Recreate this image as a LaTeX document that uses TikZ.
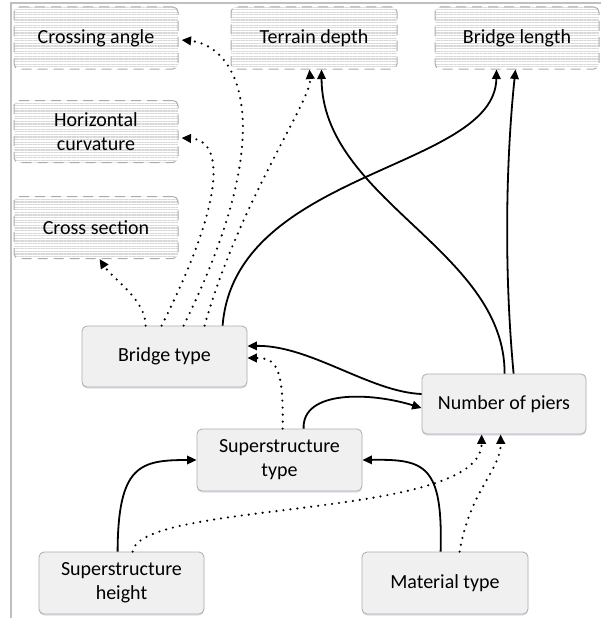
\documentclass[tikz,border=0pt]{standalone}
\usepackage{fontspec}
\setmainfont{Carlito}
\usetikzlibrary{arrows.meta,patterns.meta,shadows}
\begin{document}
\begin{tikzpicture}[x=1pt,y=-1pt,
  box/.style={draw=gray!65, line width=0.8pt, rounded corners=5pt, fill=gray!12,
    minimum width=164pt, minimum height=61pt, inner sep=0pt, align=center,
    font=\fontsize{20}{24}\selectfont,
    drop shadow={shadow xshift=0pt, shadow yshift=-1.5pt, fill=blue!30!gray!40, opacity=0.5}},
  dbox/.style={draw=gray!65, dash pattern=on 10pt off 6pt, line width=1pt, rounded corners=5pt,
    pattern={Lines[angle=0,distance=2.6pt,line width=1.1pt]}, pattern color=gray!30,
    minimum width=164pt, minimum height=62pt, inner sep=0pt, align=center,
    font=\fontsize{20}{24}\selectfont},
  sarr/.style={-{Triangle[length=9.5pt,width=8.5pt]}, line width=1.8pt},
  darr/.style={-{Triangle[length=9.5pt,width=8.5pt]}, line width=2.4pt, line cap=round, dash pattern=on 0pt off 7pt},
  frame/.style={draw=gray!50, line width=1.5pt}
]
\useasboundingbox (0,0) rectangle (601,618);
\draw[frame] (11,618) -- (11,3) -- (601,3);

\node[dbox] (ca) at (96,38) {Crossing angle};
\node[dbox] (hc) at (96,131.5) {Horizontal\\curvature};
\node[dbox] (cs) at (96,227.5) {Cross section};
\node[dbox, minimum width=166pt] (td) at (314,38) {Terrain depth};
\node[dbox] (bl) at (517,38) {Bridge length};

\node[box, minimum width=165pt] (bt) at (164.5,356.5) {Bridge type};
\node[box, minimum height=60pt] (np) at (504,404) {Number of piers};
\node[box, minimum width=165pt, minimum height=62pt] (sst) at (279.5,460) {Superstructure\\type};
\node[box, minimum width=165pt, minimum height=62pt] (ssh) at (121.5,583) {Superstructure\\height};
\node[box, minimum width=166pt, minimum height=62pt] (mt) at (445,583) {Material type};

% dotted from bridge type
\draw[darr] ([xshift=64pt]bt.north west) .. controls (146,300) and (112,278) .. ([xshift=86pt]cs.south west);
\draw[darr] ([xshift=80pt]bt.north west) .. controls (225,200) and (225,140) .. ([xshift=3pt,yshift=-6.5pt]hc.east);
\draw[darr] ([xshift=102pt]bt.north west) .. controls (285,120) and (235,45) .. ([xshift=3pt,yshift=-2pt]ca.east);
\draw[darr] ([xshift=123pt]bt.north west) .. controls (240,200) and (312,100) .. ([xshift=79pt]td.south west);
% solid from bridge type
\draw[sarr] ([xshift=141pt]bt.north west) .. controls (235,170) and (495,170) .. ([xshift=62pt]bl.south west);
% from number of piers
\draw[sarr] ([xshift=83pt]np.north west) .. controls (505,250) and (322,200) .. ([xshift=91pt]td.south west);
\draw[sarr] ([xshift=92pt]np.north west) .. controls (503,260) and (507,150) .. ([xshift=81pt]bl.south west);
\draw[sarr] ([yshift=10pt]np.west) .. controls (370,392) and (310,345) .. ([yshift=10.5pt]bt.east);
% from superstructure type
\draw[darr] ([xshift=86pt]sst.north west) .. controls (284,365) and (275,358) .. ([yshift=-1.5pt]bt.east);
\draw[sarr] ([xshift=107pt]sst.north west) .. controls (302,390) and (370,392) .. ([yshift=-4pt]np.west);
% from superstructure height
\draw[sarr] ([xshift=79pt]ssh.north west) .. controls (118,465) and (140,460) .. (sst.west);
\draw[darr] ([xshift=94pt]ssh.north west) .. controls (140,500) and (482,520) .. ([xshift=60pt]np.south west);
% from material type
\draw[sarr] ([xshift=79pt]mt.north west) .. controls (443,465) and (425,459) .. (sst.east);
\draw[darr] ([xshift=98pt]mt.north west) .. controls (470,490) and (501,470) .. ([xshift=79pt]np.south west);
\end{tikzpicture}
\end{document}
